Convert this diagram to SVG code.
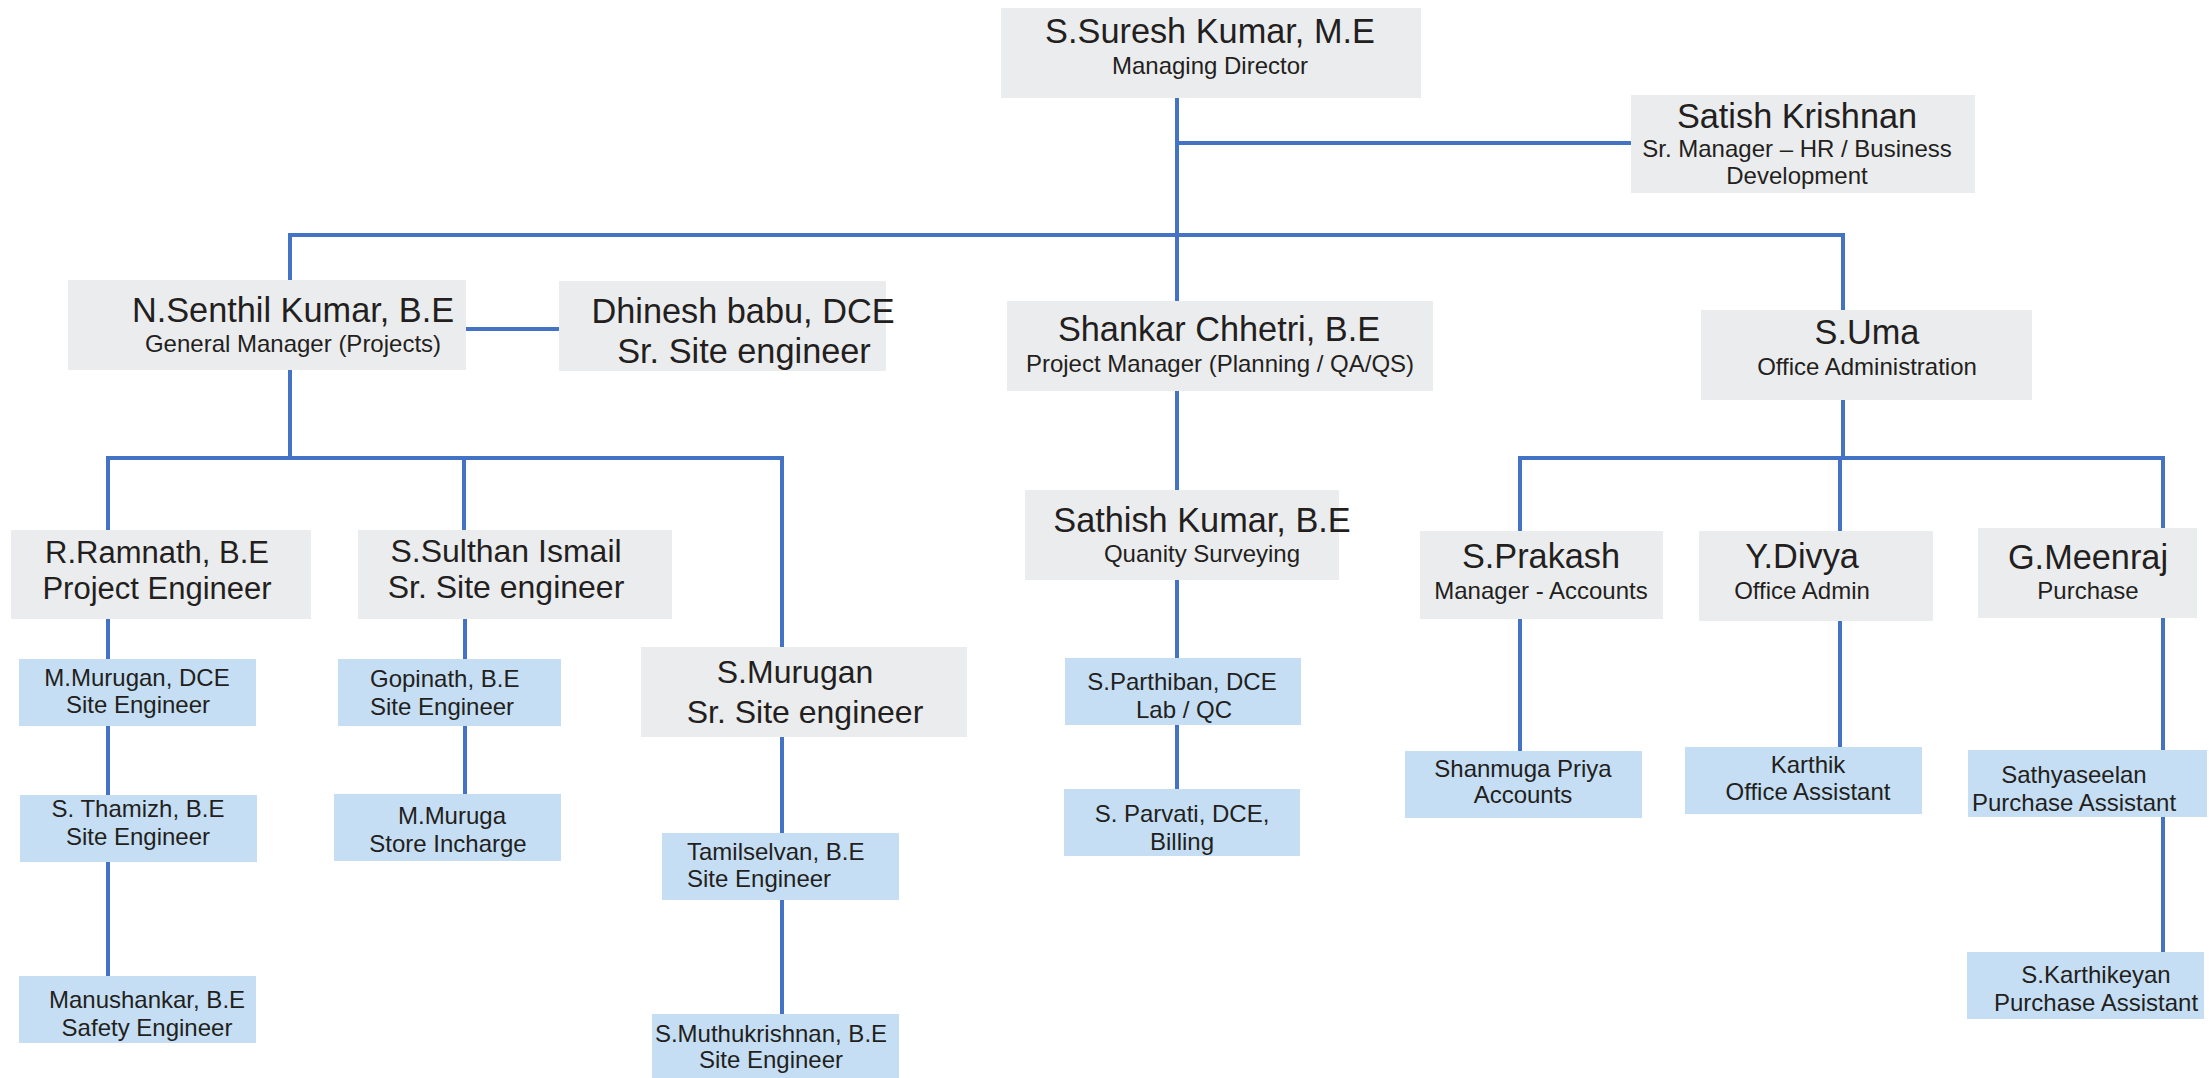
<svg xmlns="http://www.w3.org/2000/svg" width="2209" height="1078" viewBox="0 0 2209 1078">
<style>
.g{fill:#EBECEE}
.b{fill:#C5DEF3}
text{font-family:"Liberation Sans",Arial,sans-serif;fill:#231F20}
.n{font-size:34.3px}
.n2{font-size:32px}
.n3{font-size:31px}
.s{font-size:24px}
.c{text-anchor:middle}
.conn path{stroke:#4472C4;stroke-width:4;fill:none}
</style>
<rect width="2209" height="1078" fill="#FFFFFF"/>
<g class="conn" id="connectors">
<path d="M1177 98 V301"/>
<path d="M1177 143 H1631"/>
<path d="M288 235 H1845"/>
<path d="M290 233 V280"/>
<path d="M1843 233 V310"/>
<path d="M466 329 H559"/>
<path d="M290 370 V458"/>
<path d="M106 458 H784"/>
<path d="M108 456 V530"/>
<path d="M464 458 V530"/>
<path d="M782 456 V647"/>
<path d="M108 619 V659"/>
<path d="M108 726 V795"/>
<path d="M108 862 V976"/>
<path d="M465 619 V659"/>
<path d="M465 726 V794"/>
<path d="M782 737 V833"/>
<path d="M782 900 V1014"/>
<path d="M1177 391 V490"/>
<path d="M1177 580 V658"/>
<path d="M1177 725 V789"/>
<path d="M1843 400 V458"/>
<path d="M1518 458 H2165"/>
<path d="M1520 456 V531"/>
<path d="M1840 458 V531"/>
<path d="M2163 456 V528"/>
<path d="M1520 619 V751"/>
<path d="M1840 621 V747"/>
<path d="M2163 618 V750"/>
<path d="M2163 817 V952"/>
</g>
<g id="md"><rect class="g" x="1001" y="8" width="420" height="90"/>
<text class="n c" x="1210" y="43">S.Suresh Kumar, M.E</text>
<text class="s c" x="1210" y="74">Managing Director</text></g>
<g id="satish"><rect class="g" x="1631" y="95" width="344" height="98"/>
<text class="n c" x="1797" y="128">Satish Krishnan</text>
<text class="s c" x="1797" y="157">Sr. Manager – HR / Business</text>
<text class="s c" x="1797" y="184">Development</text></g>
<g id="senthil"><rect class="g" x="68" y="280" width="398" height="90"/>
<text class="n c" x="293" y="322">N.Senthil Kumar, B.E</text>
<text class="s c" x="293" y="352">General Manager (Projects)</text></g>
<g id="dhinesh"><rect class="g" x="559" y="281" width="327" height="90"/>
<text class="n c" x="743" y="323">Dhinesh babu, DCE</text>
<text class="n c" x="744" y="363">Sr. Site engineer</text></g>
<g id="shankar"><rect class="g" x="1007" y="301" width="426" height="90"/>
<text class="n c" x="1219" y="341">Shankar Chhetri, B.E</text>
<text class="s c" x="1220" y="372">Project Manager (Planning / QA/QS)</text></g>
<g id="uma"><rect class="g" x="1701" y="310" width="331" height="90"/>
<text class="n c" x="1867" y="344">S.Uma</text>
<text class="s c" x="1867" y="375">Office Administration</text></g>
<g id="ramnath"><rect class="g" x="11" y="530" width="300" height="89"/>
<text class="n3 c" x="157" y="563">R.Ramnath, B.E</text>
<text class="n3 c" x="157" y="599">Project Engineer</text></g>
<g id="sulthan"><rect class="g" x="358" y="530" width="314" height="89"/>
<text class="n2 c" x="506" y="562">S.Sulthan Ismail</text>
<text class="n2 c" x="506" y="598">Sr. Site engineer</text></g>
<g id="smurugan"><rect class="g" x="641" y="647" width="326" height="90"/>
<text class="n2 c" x="795" y="683">S.Murugan</text>
<text class="n2 c" x="805" y="723">Sr. Site engineer</text></g>
<g id="sathish"><rect class="g" x="1025" y="490" width="314" height="90"/>
<text class="n c" x="1202" y="532">Sathish Kumar, B.E</text>
<text class="s c" x="1202" y="562">Quanity Surveying</text></g>
<g id="prakash"><rect class="g" x="1420" y="531" width="243" height="88"/>
<text class="n c" x="1541" y="568">S.Prakash</text>
<text class="s c" x="1541" y="599">Manager - Accounts</text></g>
<g id="divya"><rect class="g" x="1699" y="531" width="234" height="90"/>
<text class="n c" x="1802" y="568">Y.Divya</text>
<text class="s c" x="1802" y="599">Office Admin</text></g>
<g id="meenraj"><rect class="g" x="1978" y="528" width="219" height="90"/>
<text class="n c" x="2088" y="569">G.Meenraj</text>
<text class="s c" x="2088" y="599">Purchase</text></g>
<g id="mmurugan"><rect class="b" x="19" y="659" width="237" height="67"/>
<text class="s c" x="137" y="686">M.Murugan, DCE</text>
<text class="s c" x="138" y="713">Site Engineer</text></g>
<g id="thamizh"><rect class="b" x="20" y="795" width="237" height="67"/>
<text class="s c" x="138" y="817">S. Thamizh, B.E</text>
<text class="s c" x="138" y="845">Site Engineer</text></g>
<g id="manushankar"><rect class="b" x="19" y="976" width="237" height="67"/>
<text class="s c" x="147" y="1008">Manushankar, B.E</text>
<text class="s c" x="147" y="1036">Safety Engineer</text></g>
<g id="gopinath"><rect class="b" x="338" y="659" width="223" height="67"/>
<text class="s" x="370" y="687">Gopinath, B.E</text>
<text class="s" x="370" y="715">Site Engineer</text></g>
<g id="mmuruga"><rect class="b" x="334" y="794" width="227" height="67"/>
<text class="s c" x="452" y="824">M.Muruga</text>
<text class="s c" x="448" y="852">Store Incharge</text></g>
<g id="tamilselvan"><rect class="b" x="662" y="833" width="237" height="67"/>
<text class="s" x="687" y="860">Tamilselvan, B.E</text>
<text class="s" x="687" y="887">Site Engineer</text></g>
<g id="muthukrishnan"><rect class="b" x="652" y="1014" width="247" height="64"/>
<text class="s c" x="771" y="1042">S.Muthukrishnan, B.E</text>
<text class="s c" x="771" y="1068">Site Engineer</text></g>
<g id="parthiban"><rect class="b" x="1065" y="658" width="236" height="67"/>
<text class="s c" x="1182" y="690">S.Parthiban, DCE</text>
<text class="s c" x="1184" y="718">Lab / QC</text></g>
<g id="parvati"><rect class="b" x="1064" y="789" width="236" height="67"/>
<text class="s c" x="1182" y="822">S. Parvati, DCE,</text>
<text class="s c" x="1182" y="850">Billing</text></g>
<g id="shanmuga"><rect class="b" x="1405" y="751" width="237" height="67"/>
<text class="s c" x="1523" y="777">Shanmuga Priya</text>
<text class="s c" x="1523" y="803">Accounts</text></g>
<g id="karthik"><rect class="b" x="1685" y="747" width="237" height="67"/>
<text class="s c" x="1808" y="773">Karthik</text>
<text class="s c" x="1808" y="800">Office Assistant</text></g>
<g id="sathyaseelan"><rect class="b" x="1968" y="750" width="239" height="67"/>
<text class="s c" x="2074" y="783">Sathyaseelan</text>
<text class="s c" x="2074" y="811">Purchase Assistant</text></g>
<g id="karthikeyan"><rect class="b" x="1967" y="952" width="237" height="67"/>
<text class="s c" x="2096" y="983">S.Karthikeyan</text>
<text class="s c" x="2096" y="1011">Purchase Assistant</text></g>
</svg>
